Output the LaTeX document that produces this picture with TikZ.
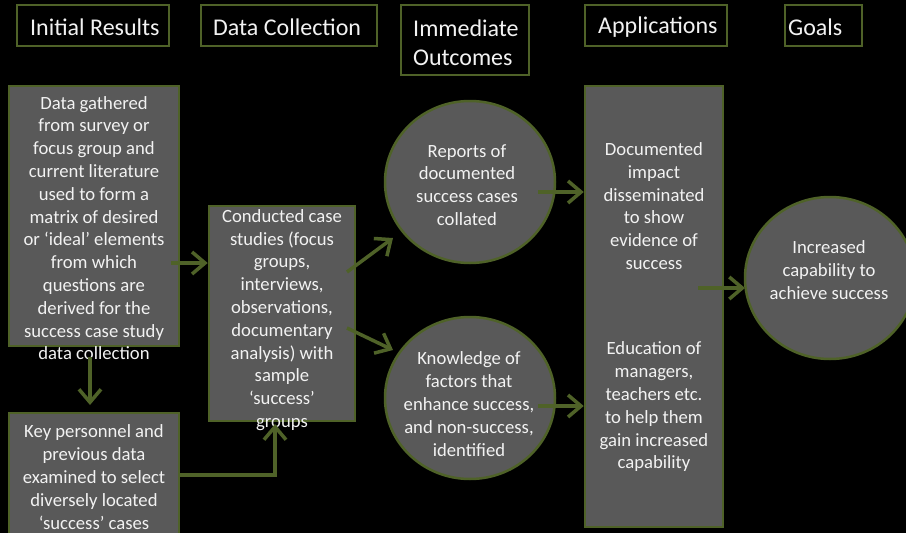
\documentclass[tikz,border=0pt]{standalone}
\usepackage{fontspec}
\setmainfont{Carlito}
\usetikzlibrary{arrows.meta,shapes.geometric}

\definecolor{olive}{HTML}{4F6228}
\definecolor{panel}{HTML}{595959}
\definecolor{ink}{HTML}{F2F2F2}

\begin{document}
\begin{tikzpicture}[x=1pt,y=-1pt,
  hdr/.style={draw=olive, line width=2.5pt, fill=black, inner sep=0pt},
  box/.style={draw=olive, line width=2.5pt, fill=panel, inner sep=0pt},
  blob/.style={ellipse, draw=olive, line width=2.5pt, fill=panel, inner sep=0pt,
               minimum width=170pt, minimum height=162pt},
  htxt/.style={text=ink, font=\fontsize{24}{29.3}\selectfont, inner sep=0pt, align=left, anchor=west},
  btxt/.style={text=ink, font=\fontsize{18.67}{22.8}\selectfont, inner sep=0pt, align=center},
  flow/.style={draw=olive, line width=3.5pt,
               -{Straight Barb[length=13pt,width=22pt]}}
]
% page and background
\useasboundingbox (0,0) rectangle (906,533);
\fill[black] (0,0) rectangle (906,533);

% column headings
\node[hdr, minimum width=152pt, minimum height=41pt] (h1) at (93,25.5) {};
\node[hdr, minimum width=176pt, minimum height=41pt] (h2) at (289,25.5) {};
\node[hdr, minimum width=128pt, minimum height=70pt] (h3) at (465,40) {};
\node[hdr, minimum width=142pt, minimum height=41pt] (h4) at (656,25.5) {};
\node[hdr, minimum width=77pt,  minimum height=41pt] (h5) at (823.5,25.5) {};
\node[htxt] (t1) at (30,27) {Initial Results};
\node[htxt] (t2) at (213,27) {Data Collection};
\node[htxt] (t3) at (413,42.5) {Immediate\\Outcomes};
\node[htxt] (t4) at (598,27) {Applications};
\node[htxt] (t5) at (788,27) {Goals};

% process boxes and outcome ellipses
\node[box, minimum width=170pt, minimum height=260pt] (A) at (94,216) {};
\node[box, minimum width=170pt, minimum height=124pt] (B) at (94,475) {};
\node[box, minimum width=146pt, minimum height=215pt] (C) at (282,313.5) {};
\node[blob] (D) at (470,182) {};
\node[blob] (E) at (470,398) {};
\node[box, minimum width=138pt, minimum height=441pt] (F) at (654,306.5) {};
\node[blob] (G) at (830,278) {};

% texts
\node[btxt] (ta) at (94,228) {Data gathered\\from survey or\\focus group and\\current literature\\used to form a\\matrix of desired\\or ‘ideal’ elements\\from which\\questions are\\derived for the\\success case study\\data collection};
\node[btxt] (tb) at (94,477) {Key personnel and\\previous data\\examined to select\\diversely located\\‘success’ cases};
\node[btxt] (tc) at (282,320) {Conducted case\\studies (focus\\groups,\\interviews,\\observations,\\documentary\\analysis) with\\sample\\‘success’\\groups};
\node[btxt] (td) at (467,185) {Reports of\\documented\\success cases\\collated};
\node[btxt] (te) at (469,404) {Knowledge of\\factors that\\enhance success,\\and non-success,\\identified};
\node[btxt] (tf1) at (654,206) {Documented\\impact\\disseminated\\to show\\evidence of\\success};
\node[btxt] (tf2) at (654,407) {Education of\\managers,\\teachers etc.\\to help them\\gain increased\\capability};
\node[btxt] (tg) at (829,270) {Increased\\capability to\\achieve success};

% connector ends
\coordinate (a1) at (171,263);
\coordinate (a2) at (90,357);
\coordinate (b1) at (90,405);
\coordinate (c1) at (275,424);
\coordinate (c2) at (347,272);
\coordinate (c3) at (347,328);
\coordinate (d1) at (393,238);
\coordinate (e1) at (393,350);
\coordinate (d2) at (538,192);
\coordinate (e2) at (538,406);
\coordinate (f1) at (698,288);
\coordinate (g1) at (745,288);

% connectors
\draw[flow] (a1) -- (C.west |- a1);
\draw[flow] (a2) -- (b1);
\draw[flow] (B.east) -| (c1);
\draw[flow] (c2) -- (d1);
\draw[flow] (c3) -- (e1);
\draw[flow] (d2) -- (F.west |- d2);
\draw[flow] (e2) -- (F.west |- e2);
\draw[flow] (f1) -- (g1);
\end{tikzpicture}
\end{document}
